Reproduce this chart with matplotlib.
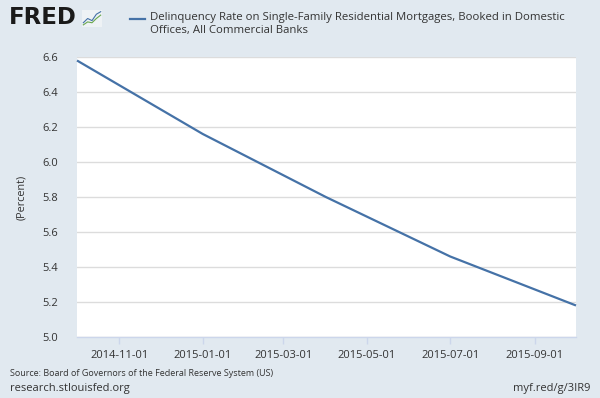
import matplotlib
matplotlib.use("Agg")
import matplotlib.pyplot as plt
import matplotlib.dates as mdates
import numpy as np
import datetime as dt

dates = ["2014-10-01", "2015-01-01", "2015-04-01", "2015-07-01", "2015-10-01"]
rates = [6.58, 6.16, 5.80, 5.46, 5.18]
tick_dates = ["2014-11-01", "2015-01-01", "2015-03-01", "2015-05-01", "2015-07-01", "2015-09-01"]
y_ticks = [5.0, 5.2, 5.4, 5.6, 5.8, 6.0, 6.2, 6.4, 6.6]

series_name = ("Delinquency Rate on Single-Family Residential Mortgages, Booked in Domestic\n"
               "Offices, All Commercial Banks")

bg = "#e1e9f0"
txt = "#333333"
line_col = "#4572a7"

plt.rcParams['font.family'] = ['Open Sans', 'DejaVu Sans']

x = [dt.datetime.strptime(d, "%Y-%m-%d") for d in dates]
xt = [dt.datetime.strptime(d, "%Y-%m-%d") for d in tick_dates]

fig = plt.figure(figsize=(6, 3.98), dpi=100, facecolor=bg)
ax = fig.add_axes([77 / 600, 1 - 337 / 398, 499 / 600, 280 / 398])
ax.set_facecolor("white")

ax.plot(x, rates, color=line_col, lw=1.6, solid_capstyle="butt", clip_on=False, zorder=3)

ax.set_xlim(x[0], x[-1])
ax.set_ylim(5.0, 6.6)
ax.set_yticks(y_ticks)
ax.set_yticklabels([f"{v:.1f}" for v in y_ticks])
ax.set_xticks(xt)
ax.set_xticklabels(tick_dates)

ax.grid(axis="y", color="#dcdcdc", lw=1)
ax.set_axisbelow(True)
for s in ["top", "right", "left"]:
    ax.spines[s].set_visible(False)
ax.spines["bottom"].set_color("#ccd6eb")
ax.spines["bottom"].set_linewidth(1)

ax.tick_params(axis="y", length=0, pad=13.7, labelsize=8, labelcolor=txt)
ax.tick_params(axis="x", length=5, width=1, color="#ccd6eb", pad=4, labelsize=8, labelcolor=txt)

ax.set_ylabel("(Percent)", fontsize=7.8, color=txt)
ax.yaxis.set_label_coords(-0.1, 0.5)

# header: logo and legend
fig.text(9 / 600, 1 - 18 / 398, "FRED", fontsize=16.5, fontweight="bold", color="#1a1a1a",
         va="center", ha="left", family="DejaVu Sans")
icon = fig.add_axes([82 / 600, 1 - 27 / 398, 20 / 600, 17 / 398])
icon.set_facecolor("#eef2f5")
icon.plot([0, 1, 2, 3, 4], [1, 2, 1.5, 3, 3.6], color="#4572a7", lw=0.8)
icon.plot([0, 1, 2, 3, 4], [0.5, 1.2, 1.0, 2.0, 2.8], color="#6aa84f", lw=0.8)
icon.set_xlim(-0.3, 4.3)
icon.set_ylim(0, 4)
icon.set_xticks([])
icon.set_yticks([])
for s in icon.spines.values():
    s.set_visible(False)

fig.lines.append(plt.Line2D([130 / 600, 145 / 600], [1 - 19 / 398, 1 - 19 / 398],
                            transform=fig.transFigure, color=line_col, lw=1.6))
fig.text(150 / 600, 1 - 12 / 398, series_name, fontsize=8.2, color=txt, va="top", ha="left",
         linespacing=1.25)

# footer
fig.text(10 / 600, 1 - 374 / 398, "Source: Board of Governors of the Federal Reserve System (US)",
         fontsize=6.5, color=txt, va="center", ha="left")
fig.text(10 / 600, 1 - 389 / 398, "research.stlouisfed.org", fontsize=8, color=txt,
         va="center", ha="left")
fig.text(590 / 600, 1 - 389 / 398, "myf.red/g/3IR9", fontsize=8, color=txt,
         va="center", ha="right")

fig.savefig("out.png", dpi=100, facecolor=bg)
